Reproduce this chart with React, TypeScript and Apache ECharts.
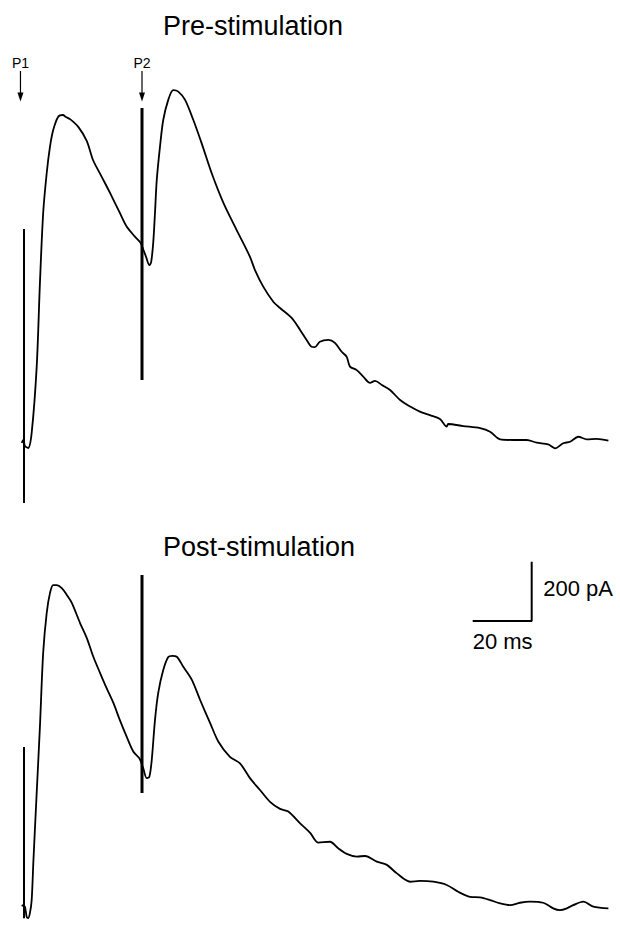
import React, { useEffect, useRef } from "react";
import * as echarts from "echarts";

// Time axis (ms) and current (pA) for the two recordings (stimulus artifacts listed separately)
const preTime = [-0.8, -0.2, 0.3, 1.4, 2.6, 4.3, 5.4, 6.5, 7.7, 8.8, 9.9, 11.6, 13.2, 14.2, 15.6, 18.4, 21.3, 23.4, 26.3, 29.2, 32.5, 34.8, 37.6, 39.5, 40.5, 41.4, 42.5, 43.1, 43.8, 44.4, 45.0, 46.1, 47.2, 48.9, 50.6, 52.3, 54.6, 57.4, 60.2, 63.6, 67.6, 72.1, 76.6, 78.3, 81.1, 84.5, 86.8, 90.8, 93.6, 95.8, 97.5, 98.6, 100.3, 103.2, 105.4, 107.7, 109.4, 110.5, 112.8, 115.0, 117.3, 119.0, 121.3, 124.1, 127.5, 130.9, 134.2, 137.6, 141.0, 143.3, 143.8, 148.9, 154.6, 158.0, 161.4, 165.9, 170.4, 173.8, 177.7, 180.0, 182.8, 185.1, 187.9, 190.8, 194.1, 198.1];
const preCurrent = [-10, 0, -20, -27, 24, 247, 530, 767, 902, 990, 1047, 1092, 1098, 1091, 1084, 1058, 1010, 946, 890, 834, 767, 721, 687, 666, 642, 618, 591, 601, 666, 767, 878, 991, 1081, 1149, 1182, 1177, 1149, 1081, 1003, 902, 801, 709, 619, 574, 518, 467, 446, 412, 372, 338, 315, 314, 332, 338, 328, 298, 281, 248, 236, 214, 193, 200, 186, 169, 135, 113, 96, 84, 71, 45, 54, 47, 40, 28, 2, 0, 0, -9, -15, -28, -11, -6, 11, 2, 4, -2];

const postTime = [-0.8, -0.2, 0.3, 0.9, 1.4, 2.0, 2.6, 3.2, 4.3, 5.4, 6.5, 7.7, 8.8, 9.9, 11.1, 12.8, 14.5, 16.2, 19.0, 21.3, 23.5, 25.8, 28.0, 30.3, 32.5, 34.8, 37.1, 39.1, 40.4, 41.6, 42.5, 43.3, 44.4, 45.5, 47.2, 48.9, 50.2, 51.8, 54.0, 56.9, 59.7, 63.1, 65.9, 69.8, 73.2, 76.6, 80.0, 83.4, 86.8, 89.6, 93.6, 97.0, 99.8, 103.7, 106.5, 109.4, 112.8, 115.6, 119.6, 123.0, 126.3, 130.9, 134.2, 138.8, 143.3, 147.2, 151.2, 154.6, 158.0, 161.4, 164.8, 168.1, 171.5, 176.0, 179.4, 181.7, 184.0, 186.2, 189.6, 193.0, 198.1];
const postCurrent = [3, 0, -2, -36, -41, -24, 20, 155, 382, 606, 855, 990, 1057, 1084, 1084, 1074, 1051, 1024, 956, 905, 842, 787, 736, 686, 628, 572, 521, 499, 466, 432, 437, 493, 628, 720, 797, 841, 845, 842, 808, 764, 696, 618, 555, 504, 482, 432, 392, 352, 328, 319, 279, 247, 214, 217, 195, 176, 167, 169, 150, 139, 111, 82, 85, 82, 71, 48, 31, 29, 20, 9, 3, 11, 15, 11, -8, -14, -8, 3, 15, -2, -8];

// Stimulus artifacts (ms, pA)
const pulseTimes = [0, 40];
const preArtifactTop = [713, 1122];
const preArtifactBottom = [-213, 203];
const postArtifactTop = [537, 1118];
const postArtifactBottom = [-41, 382];
const artifactWidths = [2, 3];

const titles = ["Pre-stimulation", "Post-stimulation"];
const pulseLabels = ["P1", "P2"];
const pulseArrowTimes = [-1.2, 40];

// Scale bar (placed in the lower panel)
const scaleBarMs = 20;
const scaleBarPa = 200;
const scaleBarCorner = [172.1, 963];

const X_MIN = -1;
const X_MAX = 200;
const PRE_RANGE = [-240, 1220];
const POST_RANGE = [-80, 1220];

const PX_PER_MS = 2.95;
const PX_PER_PA = 0.296;
const GRID_LEFT = 21.05;
const PRE_BASE_PX = 440;
const POST_BASE_PX = 906;

const FONT = "'Liberation Sans', Arial, Helvetica, sans-serif";

function zip(a: number[], b: number[]) {
  return a.map((t, i) => [t, b[i]]);
}

export default function App() {
  const ref = useRef<HTMLDivElement>(null);

  useEffect(() => {
    document.body.style.margin = "0";
    if (!ref.current) return;
    const chart = echarts.init(ref.current, null, { renderer: "svg" });

    const width = (X_MAX - X_MIN) * PX_PER_MS;
    const preTop = PRE_BASE_PX - PRE_RANGE[1] * PX_PER_PA;
    const preHeight = (PRE_RANGE[1] - PRE_RANGE[0]) * PX_PER_PA;
    const postTop = POST_BASE_PX - POST_RANGE[1] * PX_PER_PA;
    const postHeight = (POST_RANGE[1] - POST_RANGE[0]) * PX_PER_PA;

    const traceStyle = { color: "#000", width: 1.8 };

    const traceSeries = (name: string, idx: number, data: number[][]) => ({
      type: "line",
      name,
      xAxisIndex: idx,
      yAxisIndex: idx,
      data,
      showSymbol: false,
      symbol: "none",
      smooth: 0.3,
      lineStyle: traceStyle,
      silent: true,
    });

    const artifactSeries: any[] = [];
    pulseTimes.forEach((t, i) => {
      artifactSeries.push({
        type: "line",
        name: `pre-artifact-${i}`,
        xAxisIndex: 0,
        yAxisIndex: 0,
        data: [[t, preArtifactTop[i]], [t, preArtifactBottom[i]]],
        showSymbol: false,
        symbol: "none",
        lineStyle: { color: "#000", width: artifactWidths[i] },
        silent: true,
      });
      artifactSeries.push({
        type: "line",
        name: `post-artifact-${i}`,
        xAxisIndex: 1,
        yAxisIndex: 1,
        data: [[t, postArtifactTop[i]], [t, postArtifactBottom[i]]],
        showSymbol: false,
        symbol: "none",
        lineStyle: { color: "#000", width: artifactWidths[i] },
        silent: true,
      });
    });

    chart.setOption({
      animation: false,
      backgroundColor: "#fff",
      grid: [
        { left: GRID_LEFT, top: preTop, width, height: preHeight, containLabel: false },
        { left: GRID_LEFT, top: postTop, width, height: postHeight, containLabel: false },
      ],
      xAxis: [
        { type: "value", gridIndex: 0, min: X_MIN, max: X_MAX, show: false },
        { type: "value", gridIndex: 1, min: X_MIN, max: X_MAX, show: false },
      ],
      yAxis: [
        { type: "value", gridIndex: 0, min: PRE_RANGE[0], max: PRE_RANGE[1], show: false },
        { type: "value", gridIndex: 1, min: POST_RANGE[0], max: POST_RANGE[1], show: false },
      ],
      series: [
        traceSeries(titles[0], 0, zip(preTime, preCurrent)),
        traceSeries(titles[1], 1, zip(postTime, postCurrent)),
        ...artifactSeries,
        {
          type: "line",
          name: "scale",
          xAxisIndex: 1,
          yAxisIndex: 1,
          data: [
            [scaleBarCorner[0] - scaleBarMs, scaleBarCorner[1]],
            [scaleBarCorner[0], scaleBarCorner[1]],
            [scaleBarCorner[0], scaleBarCorner[1] + scaleBarPa],
          ],
          showSymbol: false,
          symbol: "none",
          lineStyle: { color: "#000", width: 2 },
          silent: true,
        },
      ],
    });

    const px = (g: number, t: number, v: number) =>
      chart.convertToPixel({ gridIndex: g }, [t, v]) as number[];

    const corner = px(1, scaleBarCorner[0], scaleBarCorner[1]);
    const barTop = px(1, scaleBarCorner[0], scaleBarCorner[1] + scaleBarPa);
    const barLeft = px(1, scaleBarCorner[0] - scaleBarMs, scaleBarCorner[1]);

    const graphics: any[] = [
      {
        type: "text",
        x: 163,
        y: 26,
        style: { text: titles[0], font: `27px ${FONT}`, fill: "#000", textAlign: "left", textVerticalAlign: "middle" },
      },
      {
        type: "text",
        x: 163,
        y: 547,
        style: { text: titles[1], font: `27px ${FONT}`, fill: "#000", textAlign: "left", textVerticalAlign: "middle" },
      },
      {
        type: "text",
        x: corner[0] + 11.5,
        y: (corner[1] + barTop[1]) / 2 - 3,
        style: { text: `${scaleBarPa} pA`, font: `22px ${FONT}`, fill: "#000", textAlign: "left", textVerticalAlign: "middle" },
      },
      {
        type: "text",
        x: barLeft[0],
        y: corner[1] + 21,
        style: { text: `${scaleBarMs} ms`, font: `22px ${FONT}`, fill: "#000", textAlign: "left", textVerticalAlign: "middle" },
      },
    ];

    pulseLabels.forEach((lab, i) => {
      const ax = px(0, pulseArrowTimes[i], 0)[0];
      graphics.push({
        type: "text",
        x: ax,
        y: 62.5,
        style: { text: lab, font: `14px ${FONT}`, fill: "#000", textAlign: "center", textVerticalAlign: "middle" },
      });
      graphics.push({
        type: "line",
        shape: { x1: ax, y1: 71, x2: ax, y2: 94 },
        style: { stroke: "#000", lineWidth: 1.2 },
      });
      graphics.push({
        type: "polygon",
        shape: { points: [[ax - 3, 92.5], [ax + 3, 92.5], [ax, 101.5]] },
        style: { fill: "#000" },
      });
    });

    chart.setOption({ graphic: graphics });

    return () => chart.dispose();
  }, []);

  return <div ref={ref} style={{ width: 620, height: 933 }} />;
}
